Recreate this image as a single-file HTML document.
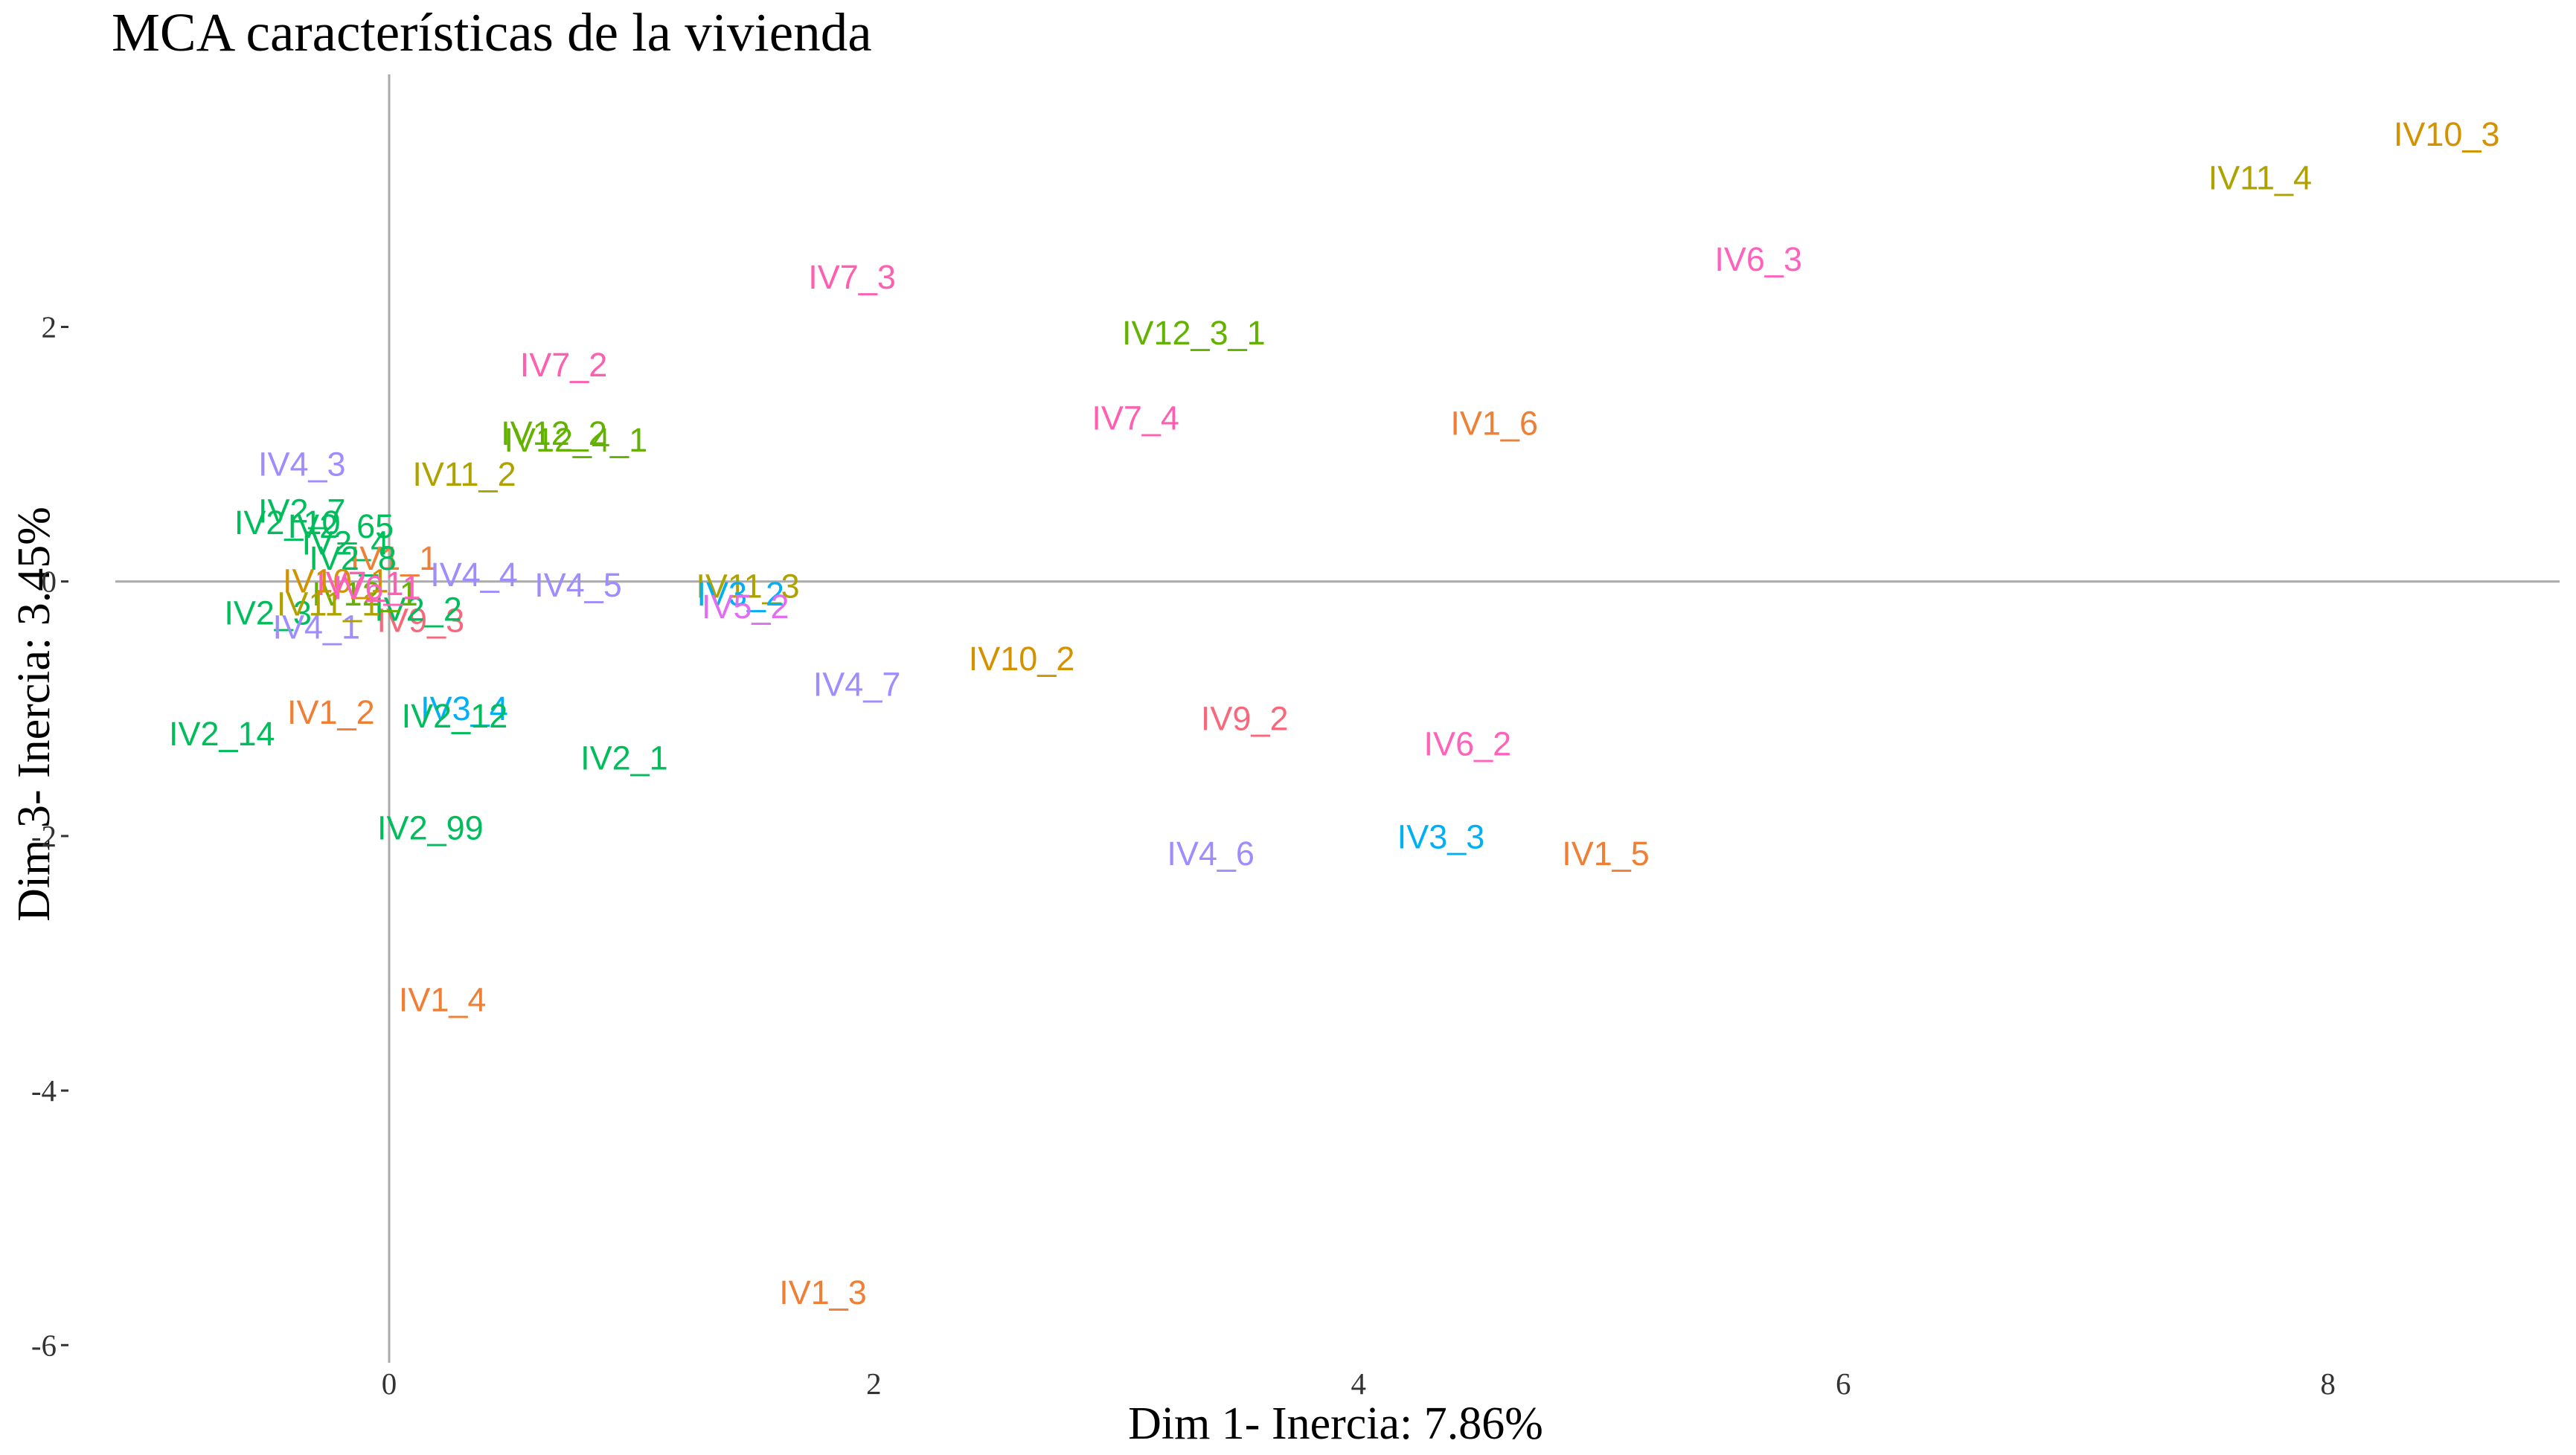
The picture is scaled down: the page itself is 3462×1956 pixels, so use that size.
<!DOCTYPE html>
<html><head><meta charset="utf-8"><style>
html,body{margin:0;padding:0;background:#fff;}
svg{display:block;}
</style></head><body>
<svg id="chart" width="3462" height="1956" viewBox="0 0 3462 1956" xmlns="http://www.w3.org/2000/svg">
<text x="150" y="68" font-family="Liberation Serif, serif" font-size="73">MCA características de la vivienda</text>
<text x="1795" y="1934" text-anchor="middle" font-family="Liberation Serif, serif" font-size="62">Dim 1- Inercia: 7.86%</text>
<text transform="translate(66,960) rotate(-90)" text-anchor="middle" font-family="Liberation Serif, serif" font-size="62">Dim 3- Inercia: 3.45%</text>
<g id="axes"></g>
<g id="labels"></g>
</svg>
<script>
const labels=["IV10_3","IV11_4","IV6_3","IV7_3","IV12_3_1","IV7_2","IV7_4","IV1_6","IV12_2","IV12_4_1","IV11_2","IV4_3","IV2_7","IV2_10","IV2_65","IV2_4","IV1_1","IV2_8","IV4_4","IV4_5","IV11_3","IV3_2","IV5_2","IV2_3","IV4_1","IV9_3","IV2_2","IV12_1","IV11_1","IV7_1","IV10_1","IV6_1","IV10_2","IV4_7","IV9_2","IV6_2","IV1_2","IV2_14","IV3_4","IV2_12","IV2_1","IV2_99","IV4_6","IV3_3","IV1_5","IV1_4","IV1_3"];
const dim1=[8.49,7.72,5.65,1.91,3.32,0.72,3.08,4.56,0.68,0.77,0.31,-0.36,-0.36,-0.42,-0.2,-0.18,0.02,-0.15,0.35,0.78,1.48,1.45,1.47,-0.5,-0.3,0.13,0.12,-0.1,-0.25,-0.12,-0.22,-0.05,2.61,1.93,3.53,4.45,-0.24,-0.69,0.31,0.27,0.97,0.17,3.39,4.34,5.02,0.22,1.79];
const dim3=[3.51,3.17,2.53,2.39,1.95,1.70,1.28,1.24,1.16,1.11,0.84,0.92,0.55,0.46,0.43,0.30,0.18,0.18,0.05,-0.03,-0.04,-0.1,-0.2,-0.25,-0.36,-0.31,-0.22,-0.1,-0.18,-0.02,0.0,-0.05,-0.61,-0.81,-1.08,-1.28,-1.03,-1.20,-1.0,-1.06,-1.39,-1.94,-2.14,-2.01,-2.14,-3.29,-5.59];
const xTicks=[0,2,4,6,8];
const yTicks=[2,0,-2,-4,-6];
const colorMap={IV1:"#EE7F35",IV10:"#D39200",IV11:"#AEA200",IV12:"#64B200",IV2:"#00BD5C",IV3:"#00B0F6",IV4:"#9F8CFF",IV5:"#E16DF0",IV6:"#FF62BC",IV7:"#FF5FB0",IV9:"#F8677A"};
const X=v=>523+v*325.7, Y=v=>781.7-v*171.1;
const NS="http://www.w3.org/2000/svg";
const ax=document.getElementById('axes'), lg=document.getElementById('labels');
function mk(t,a,p){const e=document.createElementNS(NS,t);for(const k in a)e.setAttribute(k,a[k]);p.appendChild(e);return e;}
const vl=mk('line',{x1:X(0),x2:X(0),y1:100,y2:1832,stroke:'#aaaaaa','stroke-width':3},ax);


const hl=mk('line',{x1:155,x2:3440,y1:Y(0),y2:Y(0),stroke:'#aaaaaa','stroke-width':3},ax);


xTicks.forEach(t=>{
 const e=mk('text',{x:X(t),y:1874,'text-anchor':'middle','font-family':'Liberation Serif, serif','font-size':41,fill:'#333'},ax);
 e.textContent=t;
 
 
});
yTicks.forEach(t=>{
 const e=mk('text',{x:76,y:Y(t)+14,'text-anchor':'end','font-family':'Liberation Serif, serif','font-size':41,fill:'#333'},ax);
 e.textContent=t;
 
 
 const m=mk('line',{x1:82,x2:92,y1:Y(t),y2:Y(t),stroke:'#333','stroke-width':3},ax);
 
 
});
labels.forEach((l,i)=>{
 const c=colorMap[l.split('_')[0]]||'#888';
 const e=mk('text',{x:X(dim1[i]),y:Y(dim3[i])+15,'text-anchor':'middle','font-family':'Liberation Sans, sans-serif','font-size':45,fill:c},lg);
 e.textContent=l;
 
 
});
</script>
</body></html>
